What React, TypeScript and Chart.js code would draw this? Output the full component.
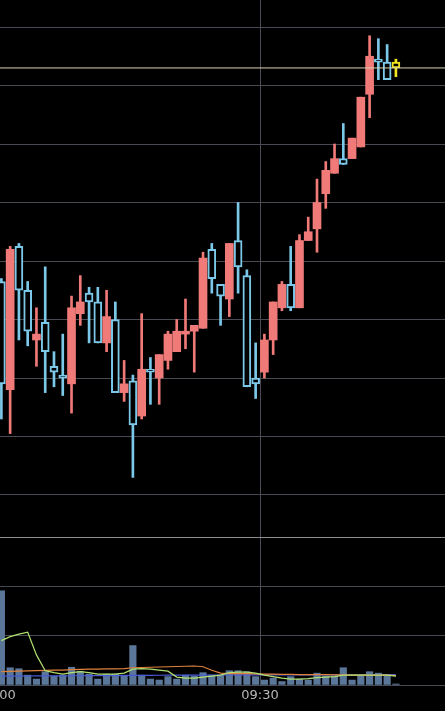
import { useEffect, useRef } from "react";
import { Chart, registerables } from "chart.js";

Chart.register(...registerables);

// ---- data ----
const times = [
  "09:00", "09:01", "09:02", "09:03", "09:04", "09:05", "09:06", "09:07", "09:08", "09:09",
  "09:10", "09:11", "09:12", "09:13", "09:14", "09:15", "09:16", "09:17", "09:18", "09:19",
  "09:20", "09:21", "09:22", "09:23", "09:24", "09:25", "09:26", "09:27", "09:28", "09:29",
  "09:30", "09:31", "09:32", "09:33", "09:34", "09:35", "09:36", "09:37", "09:38", "09:39",
  "09:40", "09:41", "09:42", "09:43", "09:44", "09:45",
];
const opens = [2073, 2036, 2085, 2070, 2053, 2059, 2044, 2041, 2038, 2062, 2069, 2066, 2052, 2060, 2035, 2039, 2027, 2043, 2040, 2046, 2049, 2055, 2056, 2057, 2084, 2072, 2067, 2087, 2075, 2040, 2042, 2053, 2064, 2072, 2064, 2087, 2091, 2103, 2110, 2115, 2115, 2119, 2137, 2149, 2148, 2148];
const closes = [2038, 2084, 2070, 2056, 2055, 2049, 2042, 2040, 2064, 2066, 2066, 2052, 2061, 2035, 2038, 2024, 2043, 2042, 2048, 2055, 2056, 2056, 2058, 2081, 2074, 2068, 2086, 2078, 2037, 2038, 2053, 2066, 2072, 2064, 2087, 2090, 2100, 2111, 2115, 2113, 2122, 2136, 2150, 2148, 2142, 2146];
const highs = [2074, 2085, 2086, 2073, 2064, 2078, 2049, 2055, 2068, 2075, 2071, 2071, 2070, 2066, 2046, 2041, 2062, 2047, 2048, 2056, 2060, 2067, 2058, 2083, 2086, 2072, 2086, 2100, 2077, 2052, 2055, 2066, 2073, 2085, 2089, 2095, 2108, 2114, 2120, 2127, 2122, 2136, 2157, 2156, 2154, 2149];
const lows = [2026, 2021, 2053, 2051, 2044, 2035, 2037, 2034, 2028, 2058, 2052, 2052, 2049, 2035, 2032, 2006, 2026, 2031, 2031, 2043, 2049, 2050, 2042, 2057, 2069, 2058, 2061, 2069, 2037, 2033, 2040, 2048, 2063, 2063, 2064, 2087, 2083, 2098, 2110, 2113, 2115, 2119, 2129, 2142, 2142, 2143];

const volumes = [19100, 3500, 3300, 2000, 1200, 2700, 1800, 2000, 3600, 2800, 2200, 1200, 2200, 2200, 2000, 8000, 2000, 1200, 1000, 1700, 1200, 2000, 1800, 2500, 2000, 2000, 2900, 2900, 2700, 1700, 1000, 1400, 700, 1700, 1200, 1000, 2400, 1800, 1800, 3500, 1000, 1800, 2700, 2400, 1800, 200];
const volMaShort = [9000, 9800, 10300, 10700, 6100, 2900, 2500, 2200, 2500, 2700, 2500, 2200, 2200, 2200, 2400, 3200, 3300, 3200, 3000, 2800, 1600, 1400, 1400, 1600, 1800, 2000, 2500, 2600, 2600, 2400, 2000, 1700, 1400, 1200, 1200, 1300, 1500, 1600, 1700, 2000, 2000, 2000, 2000, 2000, 2000, 1800];
const volMaMid = [2700, 2750, 2800, 2850, 2900, 2950, 3000, 3000, 3100, 3150, 3200, 3200, 3250, 3250, 3300, 3500, 3550, 3600, 3650, 3700, 3750, 3800, 3850, 3700, 3000, 2400, 2300, 2300, 2300, 2250, 2200, 2200, 2150, 2150, 2100, 2100, 2100, 2100, 2050, 2050, 2000, 2000, 2000, 2000, 2000, 1900];
const volMaLong = [1800, 1800, 1800, 1820, 1830, 1840, 1850, 1860, 1870, 1880, 1890, 1900, 1900, 1910, 1920, 1950, 1960, 1970, 1980, 1990, 2000, 2000, 2010, 2020, 2020, 2030, 2040, 2050, 2060, 2060, 2060, 2060, 2060, 2060, 2060, 2060, 2070, 2070, 2070, 2080, 2080, 2080, 2080, 2090, 2090, 2090];

const tickLabels = ["09:00", "09:30"];
const priceTicks = [2000, 2020, 2040, 2060, 2080, 2100, 2120, 2140, 2160];
const volumeTicks = [0, 10000, 20000, 30000];

// ---- layout / style ----
const W = 445;
const H = 711;
const PRICE_H = 537;
const X_MIN = 0.342;
const X_MAX = 51.1;
const P_MIN = 1985.641;
const P_MAX = 2169.231;
const V_MAX = 30000;

const GRID = "#4a4a55";
const SEP = "#8e8e8e";
const RED = "#f07a78";
const BLUE = "#7cc8e8";
const YELLOW = "#f2e41e";
const PRICE_LINE = "#d8d4b2";
const VOL = "#5a7698";

function toMin(t: string) {
  const [h, m] = t.split(":").map(Number);
  return h * 60 + m - 540;
}
const xs = times.map((t) => toMin(t) + 0.5);
const last = times.length - 1;

function candleColor(i: number) {
  if (i === last) return YELLOW;
  return closes[i] >= opens[i] ? RED : BLUE;
}
function isHollow(i: number) {
  return i === last || closes[i] < opens[i];
}

const zeroPad = (a: any) => {
  a.paddingLeft = 0;
  a.paddingRight = 0;
  a.paddingTop = 0;
  a.paddingBottom = 0;
};

export default function App() {
  const priceRef = useRef<HTMLCanvasElement>(null);
  const volRef = useRef<HTMLCanvasElement>(null);

  useEffect(() => {
    document.body.style.margin = "0";
    document.body.style.background = "#000";

    const xAxisBase = (showLabels: boolean, height: number) => ({
      type: "linear" as const,
      min: X_MIN,
      max: X_MAX,
      offset: false,
      afterBuildTicks: (a: any) => {
        a.ticks = tickLabels.map((l) => ({ value: toMin(l) }));
      },
      afterFit: (a: any) => {
        a.height = height;
        zeroPad(a);
      },
      ticks: {
        display: showLabels,
        autoSkip: false,
        maxRotation: 0,
        minRotation: 0,
        padding: 3,
        color: "#b8b8b8",
        font: { family: "DejaVu Sans", size: 13 },
        callback: (v: any) => {
          const idx = tickLabels.findIndex((l) => toMin(l) === v);
          return idx >= 0 ? tickLabels[idx] : "";
        },
      },
      grid: { color: GRID, drawTicks: false, offset: false, lineWidth: 1 },
      border: { display: false },
    });

    const priceChart = new Chart(priceRef.current!, {
      type: "bar",
      data: {
        datasets: [
          {
            type: "line",
            data: [
              { x: X_MIN, y: closes[last] },
              { x: X_MAX, y: closes[last] },
            ],
            borderColor: PRICE_LINE,
            borderWidth: 1,
            pointRadius: 0,
            order: 0,
          } as any,
          {
            type: "bar",
            data: xs.map((x, i) => ({ x, y: [opens[i], closes[i]] })),
            backgroundColor: xs.map((_, i) => (isHollow(i) ? "#000" : candleColor(i))),
            borderColor: xs.map((_, i) => candleColor(i)),
            borderWidth: xs.map((_, i) => (isHollow(i) ? 2 : 0)),
            borderSkipped: false,
            barThickness: 8,
            grouped: false,
            order: 1,
          } as any,
          {
            type: "bar",
            data: xs.map((x, i) => ({ x, y: [lows[i], highs[i]] })),
            backgroundColor: xs.map((_, i) => candleColor(i)),
            borderWidth: 0,
            barThickness: 2,
            grouped: false,
            order: 2,
          } as any,
        ],
      },
      options: {
        animation: false,
        responsive: false,
        devicePixelRatio: 1,
        events: [],
        layout: { padding: 0 },
        plugins: { legend: { display: false }, tooltip: { enabled: false } },
        scales: {
          x: xAxisBase(false, 0) as any,
          y: {
            type: "linear",
            position: "right",
            min: P_MIN,
            max: P_MAX,
            afterBuildTicks: (a: any) => {
              a.ticks = priceTicks.map((v) => ({ value: v }));
            },
            afterFit: (a: any) => {
              a.width = 0;
              zeroPad(a);
            },
            ticks: { display: false },
            grid: { color: GRID, drawTicks: false },
            border: { display: false },
          } as any,
        },
      },
    });

    const lineDs = (data: number[], color: string, order: number) =>
      ({
        type: "line",
        data: xs.map((x, i) => ({ x, y: data[i] })),
        borderColor: color,
        borderWidth: 1.2,
        pointRadius: 0,
        tension: 0,
        order,
      } as any);

    const volChart = new Chart(volRef.current!, {
      type: "bar",
      data: {
        datasets: [
          lineDs(volMaShort, "#b2e070", 0),
          lineDs(volMaMid, "#e0823c", 1),
          lineDs(volMaLong, "#4a5ad8", 2),
          {
            type: "bar",
            data: xs.map((x, i) => ({ x, y: volumes[i] })),
            backgroundColor: VOL,
            borderWidth: 0,
            barThickness: 6.5,
            grouped: false,
            order: 3,
          } as any,
        ],
      },
      options: {
        animation: false,
        responsive: false,
        devicePixelRatio: 1,
        events: [],
        layout: { padding: 0 },
        plugins: { legend: { display: false }, tooltip: { enabled: false } },
        scales: {
          x: xAxisBase(true, 26) as any,
          y: {
            type: "linear",
            position: "right",
            min: 0,
            max: V_MAX,
            afterBuildTicks: (a: any) => {
              a.ticks = volumeTicks.map((v) => ({ value: v }));
            },
            afterFit: (a: any) => {
              a.width = 0;
              zeroPad(a);
            },
            ticks: { display: false },
            grid: {
              color: (ctx: any) => (ctx.tick && ctx.tick.value === V_MAX ? SEP : GRID),
              drawTicks: false,
            },
            border: { display: false },
          } as any,
        },
      },
    });

    return () => {
      priceChart.destroy();
      volChart.destroy();
    };
  }, []);

  return (
    <div
      style={{
        position: "fixed",
        left: 0,
        top: 0,
        width: W,
        height: H,
        background: "#000",
        overflow: "hidden",
      }}
    >
      <canvas
        ref={priceRef}
        width={W}
        height={PRICE_H}
        style={{ position: "absolute", left: 0, top: 0, width: W, height: PRICE_H }}
      />
      <canvas
        ref={volRef}
        width={W}
        height={H - PRICE_H}
        style={{ position: "absolute", left: 0, top: PRICE_H, width: W, height: H - PRICE_H }}
      />
    </div>
  );
}
